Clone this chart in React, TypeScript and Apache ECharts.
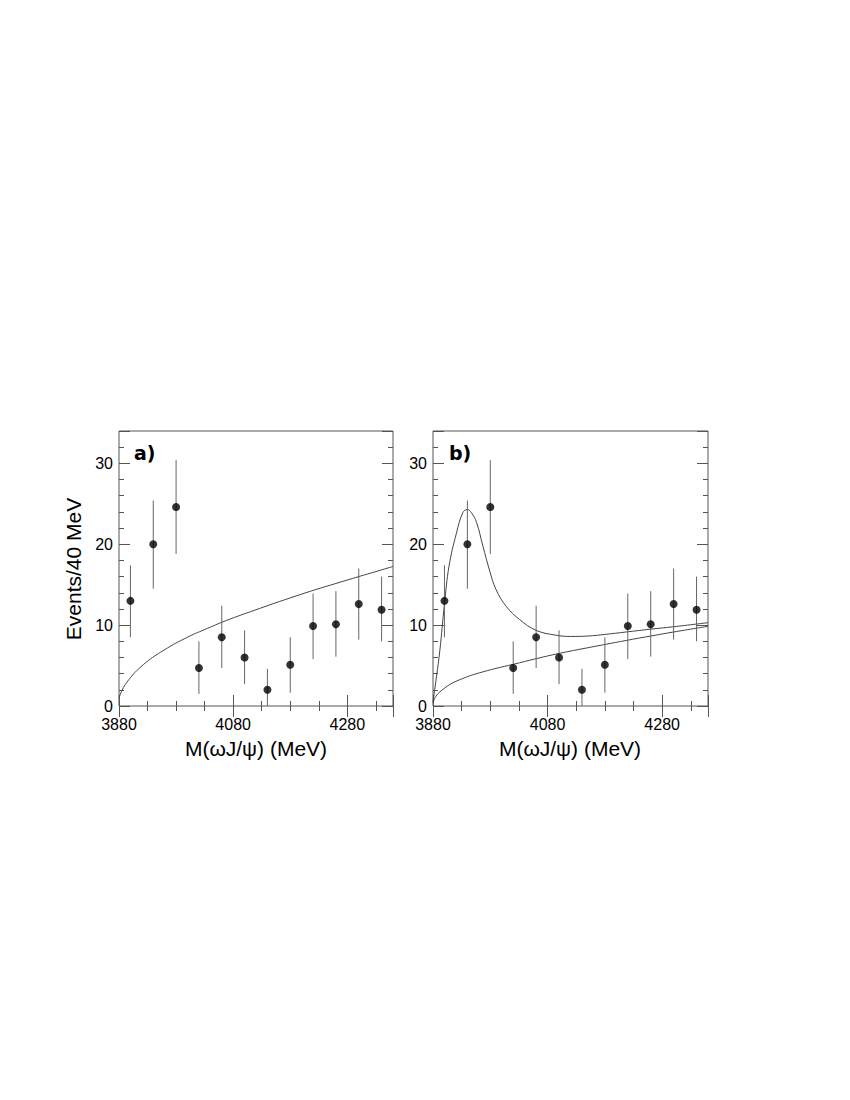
import React, { useEffect, useRef } from "react";
import * as echarts from "echarts";

// Bin centres (MeV) and measured counts, shared by both panels
const binCenters = [3900, 3940, 3980, 4020, 4060, 4100, 4140, 4180, 4220, 4260, 4300, 4340];
const counts = [13.0, 20.0, 24.6, 4.7, 8.5, 6.0, 2.0, 5.1, 9.9, 10.1, 12.6, 11.9];
const errLow = [8.5, 14.5, 18.8, 1.5, 4.7, 2.7, 0.0, 1.65, 5.8, 6.1, 8.2, 8.0];
const errHigh = [17.4, 25.4, 30.4, 8.0, 12.4, 9.35, 4.6, 8.5, 13.9, 14.2, 17.0, 16.0];

// Panel a: phase-space-only fit curve
const curveAX = [3880, 3885, 3891, 3900, 3908, 3920, 3932, 3945, 3961, 3975, 3990, 4010, 4025, 4045, 4060, 4090, 4118, 4150, 4190, 4225, 4260, 4300, 4330, 4360];
const curveAY = [1.0, 1.9, 2.65, 3.5, 4.15, 4.95, 5.65, 6.3, 7.0, 7.6, 8.15, 8.85, 9.3, 9.9, 10.35, 11.15, 11.85, 12.65, 13.6, 14.4, 15.15, 16.0, 16.62, 17.25];

// Panel b: total fit (resonance + background)
const curveBTotX = [3880, 3886, 3892, 3900, 3908, 3921, 3932, 3940, 3947, 3956, 3967, 3979, 3990, 4008, 4031, 4060, 4095, 4120, 4150, 4180, 4217, 4260, 4300, 4360];
const curveBTotY = [0.5, 3.6, 6.9, 12.6, 17.3, 21.4, 23.9, 24.3, 23.9, 22.7, 19.8, 16.7, 14.4, 12.3, 10.7, 9.35, 8.75, 8.6, 8.65, 8.85, 9.15, 9.5, 9.8, 10.3];

// Panel b: background curve
const curveBBkgX = [3880, 3885, 3892, 3900, 3909, 3920, 3932, 3945, 3961, 3990, 4020, 4060, 4100, 4150, 4217, 4260, 4300, 4360];
const curveBBkgY = [0.4, 1.2, 1.75, 2.2, 2.65, 3.05, 3.4, 3.75, 4.1, 4.65, 5.15, 5.85, 6.5, 7.2, 8.1, 8.65, 9.15, 9.85];

const xLabels = [3880, 4080, 4280];
const yLabels = [0, 10, 20, 30];

const X_MIN = 3880;
const X_MAX = 4360;
const Y_MIN = 0;
const Y_MAX = 34;

const FONT = "Liberation Sans, Arial, Helvetica, sans-serif";
const FRAME = "#555";

const zip = (xs: number[], ys: number[]) => xs.map((x, i) => [x, ys[i]]);

export default function App() {
  const ref = useRef<HTMLDivElement>(null);

  useEffect(() => {
    if (!ref.current) return;
    const chart = echarts.init(ref.current, null, { renderer: "svg" });

    const grids = [
      { left: 119, top: 431, width: 274, height: 275 },
      { left: 433, top: 431, width: 275, height: 275 },
    ];

    const xAxes: any[] = [];
    const yAxes: any[] = [];
    grids.forEach((_, gi) => {
      const mkX = (pos: string, interval: number, len: number, labels: boolean) => ({
        type: "value",
        gridIndex: gi,
        position: pos,
        min: X_MIN,
        max: X_MAX,
        interval,
        axisLine: { show: false },
        splitLine: { show: false },
        axisTick: { show: true, inside: true, length: len, lineStyle: { color: FRAME, width: 1 } },
        axisLabel: {
          show: labels,
          margin: 10,
          fontFamily: FONT,
          fontSize: 16,
          color: "#000",
          showMaxLabel: true,
          formatter: (v: number) => (xLabels.includes(v) ? String(v) : ""),
        },
      });
      const mkY = (pos: string, interval: number, len: number, labels: boolean) => ({
        type: "value",
        gridIndex: gi,
        position: pos,
        min: Y_MIN,
        max: Y_MAX,
        interval,
        axisLine: { show: false },
        splitLine: { show: false },
        axisTick: { show: true, inside: true, length: len, lineStyle: { color: FRAME, width: 1 } },
        axisLabel: {
          show: labels,
          margin: 6,
          fontFamily: FONT,
          fontSize: 16,
          color: "#000",
          formatter: (v: number) => (yLabels.includes(v) ? String(v) : ""),
        },
      });
      xAxes.push(mkX("bottom", 200, 11, true));
      xAxes.push(mkX("bottom", 50, 5, false));
      xAxes.push(mkX("top", 200, 11, false));
      xAxes.push(mkX("top", 50, 5, false));
      yAxes.push(mkY("left", 10, 11, true));
      yAxes.push(mkY("left", 2, 5, false));
      yAxes.push(mkY("right", 10, 11, false));
      yAxes.push(mkY("right", 2, 5, false));
    });

    const errData = binCenters.map((x, i) => [x, errLow[i], errHigh[i]]);
    const ptData = zip(binCenters, counts);

    const errSeries = (gi: number) => ({
      type: "custom",
      xAxisIndex: gi * 4,
      yAxisIndex: gi * 4,
      data: errData,
      encode: { x: 0, y: [1, 2] },
      renderItem: (params: any, api: any) => {
        const x = api.value(0);
        const p1 = api.coord([x, api.value(1)]);
        const p2 = api.coord([x, api.value(2)]);
        return {
          type: "line",
          shape: { x1: p1[0], y1: p1[1], x2: p2[0], y2: p2[1] },
          style: { stroke: "#666", lineWidth: 1 },
        };
      },
      z: 2,
    });
    const ptSeries = (gi: number) => ({
      type: "scatter",
      xAxisIndex: gi * 4,
      yAxisIndex: gi * 4,
      data: ptData,
      symbol: "circle",
      symbolSize: 8,
      itemStyle: { color: "#000" },
      z: 3,
    });
    const curve = (gi: number, xs: number[], ys: number[]) => ({
      type: "line",
      xAxisIndex: gi * 4,
      yAxisIndex: gi * 4,
      data: zip(xs, ys),
      showSymbol: false,
      symbol: "none",
      smooth: 0.4,
      lineStyle: { color: "#444", width: 1 },
      z: 1,
    });

    chart.setOption({
      animation: false,
      backgroundColor: "#fff",
      grid: grids.map((g) => ({
        ...g,
        show: true,
        borderColor: FRAME,
        borderWidth: 1,
        backgroundColor: "transparent",
        containLabel: false,
      })),
      xAxis: xAxes,
      yAxis: yAxes,
      series: [
        curve(0, curveAX, curveAY),
        errSeries(0),
        ptSeries(0),
        curve(1, curveBTotX, curveBTotY),
        curve(1, curveBBkgX, curveBBkgY),
        errSeries(1),
        ptSeries(1),
      ],
      graphic: [
        {
          type: "text",
          x: 73,
          y: 569,
          rotation: Math.PI / 2,
          style: {
            text: "Events/40 MeV",
            fontFamily: FONT,
            fontSize: 21,
            fill: "#000",
            textAlign: "center",
            textVerticalAlign: "middle",
          },
        },
        {
          type: "text",
          x: 256,
          y: 748,
          style: {
            text: "M(ωJ/ψ) (MeV)",
            fontFamily: FONT,
            fontSize: 21,
            fill: "#000",
            textAlign: "center",
            textVerticalAlign: "middle",
          },
        },
        {
          type: "text",
          x: 570,
          y: 748,
          style: {
            text: "M(ωJ/ψ) (MeV)",
            fontFamily: FONT,
            fontSize: 21,
            fill: "#000",
            textAlign: "center",
            textVerticalAlign: "middle",
          },
        },
        {
          type: "text",
          x: 134,
          y: 453,
          style: {
            text: "a)",
            fontFamily: "DejaVu Sans, sans-serif",
            fontWeight: "bold",
            fontSize: 19,
            fill: "#000",
            textAlign: "left",
            textVerticalAlign: "middle",
          },
        },
        {
          type: "text",
          x: 449,
          y: 453,
          style: {
            text: "b)",
            fontFamily: "DejaVu Sans, sans-serif",
            fontWeight: "bold",
            fontSize: 19,
            fill: "#000",
            textAlign: "left",
            textVerticalAlign: "middle",
          },
        },
      ],
    });

    return () => chart.dispose();
  }, []);

  return (
    <div
      ref={ref}
      style={{ position: "absolute", left: 0, top: 0, width: 850, height: 1100, background: "#fff" }}
    />
  );
}
